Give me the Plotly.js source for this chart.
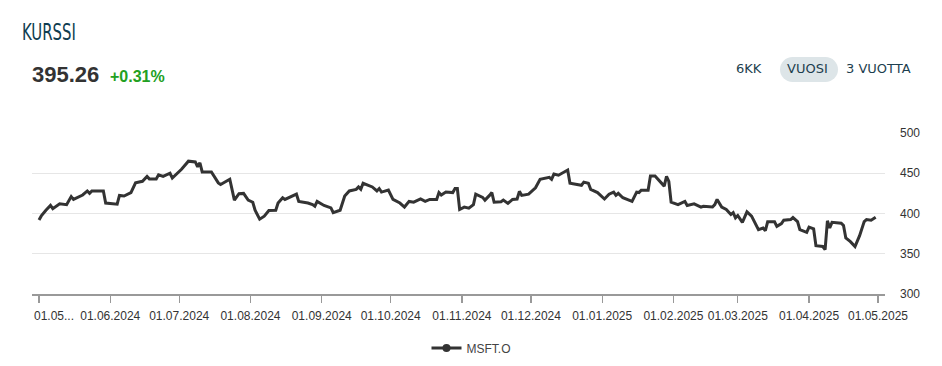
<!DOCTYPE html>
<html>
<head>
<meta charset="utf-8">
<script src="https://cdn.plot.ly/plotly-3.0.1.min.js"></script>
<style>
  html, body { margin:0; padding:0; background:#fff; }
  #wrap { position:relative; width:942px; height:366px; overflow:hidden; }
  #chart { position:absolute; left:0; top:0; width:942px; height:366px; }
  .t { position:absolute; white-space:nowrap; }
  #title { left:22px; top:19px; font-family:"Liberation Sans Narrow","DejaVu Sans Condensed",sans-serif; font-size:23px; color:#0f3d50; transform:scaleX(0.72); transform-origin:0 0; }
  #price { left:32px; top:62px; font-family:"Liberation Sans",Arial,sans-serif; font-weight:bold; font-size:22px; color:#333; }
  #chg { left:110px; top:68px; font-family:"Liberation Sans",Arial,sans-serif; font-weight:bold; font-size:16px; color:#22a022; }
  .btn { top:61px; font-family:"DejaVu Sans","Noto Sans",sans-serif; font-size:13px; color:#1d3f4f; }
  #pill { position:absolute; left:780px; top:57px; width:58px; height:25px; border-radius:13px; background:#dde5e8; }
</style>
</head>
<body>
<div id="wrap">
  <div id="chart"></div>
  <div id="title" class="t">KURSSI</div>
  <div id="price" class="t">395.26</div>
  <div id="chg" class="t">+0.31%</div>
  <div id="pill"></div>
  <div class="t btn" style="left:736px;">6KK</div>
  <div class="t btn" style="left:787px;">VUOSI</div>
  <div class="t btn" style="left:846px;">3 VUOTTA</div>
</div>
<script>
const seriesName = "MSFT.O";
const dates = [
 "2024-05-01","2024-05-02","2024-05-04","2024-05-06","2024-05-07","2024-05-10","2024-05-13","2024-05-15","2024-05-16","2024-05-20",
 "2024-05-22","2024-05-23","2024-05-24","2024-05-29","2024-05-30","2024-06-04","2024-06-05","2024-06-07","2024-06-10","2024-06-12",
 "2024-06-15","2024-06-17","2024-06-18","2024-06-21","2024-06-22","2024-06-24","2024-06-27","2024-06-28","2024-07-02","2024-07-05",
 "2024-07-08","2024-07-09","2024-07-10","2024-07-11","2024-07-15","2024-07-18","2024-07-19","2024-07-23","2024-07-25","2024-07-27",
 "2024-07-29","2024-07-31","2024-08-02","2024-08-03","2024-08-05","2024-08-07","2024-08-09","2024-08-12","2024-08-13","2024-08-15",
 "2024-08-16","2024-08-20","2024-08-21","2024-08-22","2024-08-26","2024-08-28","2024-08-29","2024-08-30","2024-09-02","2024-09-05",
 "2024-09-06","2024-09-09","2024-09-11","2024-09-13","2024-09-16","2024-09-17","2024-09-18","2024-09-19","2024-09-21","2024-09-23",
 "2024-09-25","2024-09-26","2024-09-27","2024-09-30","2024-10-02","2024-10-05","2024-10-07","2024-10-09","2024-10-11","2024-10-14",
 "2024-10-16","2024-10-18","2024-10-21","2024-10-22","2024-10-23","2024-10-25","2024-10-28","2024-10-29","2024-10-30","2024-10-31",
 "2024-11-02","2024-11-04","2024-11-06","2024-11-07","2024-11-10","2024-11-11","2024-11-13","2024-11-14","2024-11-15","2024-11-18",
 "2024-11-19","2024-11-21","2024-11-23","2024-11-25","2024-11-26","2024-11-27","2024-11-30","2024-12-03","2024-12-05","2024-12-09",
 "2024-12-10","2024-12-11","2024-12-13","2024-12-16","2024-12-17","2024-12-18","2024-12-23","2024-12-24","2024-12-26","2024-12-27",
 "2024-12-30","2025-01-02","2025-01-04","2025-01-06","2025-01-07","2025-01-08","2025-01-10","2025-01-14","2025-01-16","2025-01-17",
 "2025-01-18","2025-01-21","2025-01-22","2025-01-24","2025-01-28","2025-01-29","2025-01-30","2025-01-31","2025-02-03","2025-02-06",
 "2025-02-07","2025-02-10","2025-02-13","2025-02-14","2025-02-18","2025-02-19","2025-02-20","2025-02-22","2025-02-24","2025-02-26",
 "2025-02-27","2025-02-28","2025-03-01","2025-03-03","2025-03-05","2025-03-07","2025-03-10","2025-03-12","2025-03-13","2025-03-14",
 "2025-03-17","2025-03-18","2025-03-20","2025-03-21","2025-03-24","2025-03-25","2025-03-27","2025-03-28","2025-03-31","2025-04-01",
 "2025-04-03","2025-04-04","2025-04-07","2025-04-08","2025-04-09","2025-04-10","2025-04-11","2025-04-15","2025-04-16","2025-04-17",
 "2025-04-19","2025-04-21","2025-04-23","2025-04-25","2025-04-26","2025-04-28","2025-04-30"
];
const prices = [
 392,397,404,410,406,412,411,421,417.5,423,
 428,425,428,428,413,411.6,422.5,421.7,426,438,
 440,446,443,443,448,446,450,444,455,465,
 464,458,463,451.6,451.6,438,436,442.5,416.6,424.6,
 425,416.6,414,404,393,396.7,403.7,404,413,419.6,
 417.5,422.5,424,415,413,411,409,415,410,407,
 401,404,421.7,428,430,433,430,437.5,435,433,
 428,431,426.6,429,417.5,413,408,415,414,418,
 415,417.5,417.5,426,423,426.6,426,431,431,405,
 408,406.6,411,424,420,416.6,422.5,426,414,414.6,
 416.6,412.5,417.5,418,427.5,422.5,424,432,442.5,445,
 442.5,449,447.5,451.6,454,437.5,435,439,437.5,430,
 426,418,424,426.6,422.5,425,419.6,415,426.6,426,
 429,429,446.6,446.6,434,446,440,414,411,415,
 410,412,408,409,408,411,417.5,408,405,398.7,
 401,394.6,397.5,389,402,396.7,380,382,378.7,389.6,
 389.6,384,387.5,391.6,392.5,395,390,380,376.6,383,
 381,360,359,355,391,382,389,388,385,369.6,
 365,359,372.5,390,392.5,391.6,395.26
];
const xTickVals = ["2024-05-01","2024-06-01","2024-07-01","2024-08-01","2024-09-01","2024-10-01","2024-11-01","2024-12-01","2025-01-01","2025-02-01","2025-03-01","2025-04-01","2025-05-01"];
const xTickText = ["01.05...","01.06.2024","01.07.2024","01.08.2024","01.09.2024","01.10.2024","01.11.2024","01.12.2024","01.01.2025","01.02.2025","01.03.2025","01.04.2025","01.05.2025"];
const yTickVals = [300,350,400,450,500];

const lineColor = "#333333";
const shownTickText = xTickText.map((t, i) => i === 0 ? "" : t);
const traces = [
  {x: dates, y: prices, type: "scatter", mode: "lines", line: {color: lineColor, width: 3}, showlegend: false, hoverinfo: "skip"},
  {x: [null], y: [null], type: "scatter", mode: "lines+markers", name: seriesName,
   line: {color: lineColor, width: 3}, marker: {color: lineColor, size: 8}, showlegend: true}
];
const layout = {
  width: 942, height: 366,
  margin: {l: 32, r: 57, t: 133, b: 72, pad: 0, autoexpand: false},
  paper_bgcolor: "rgba(0,0,0,0)", plot_bgcolor: "#fff",
  font: {family: "Liberation Sans, Arial, sans-serif", size: 12, color: "#333"},
  xaxis: {
    type: "date",
    range: ["2024-04-27 22:48", "2025-05-04 01:12"],
    tickmode: "array", tickvals: xTickVals, ticktext: shownTickText,
    showgrid: false, zeroline: false,
    showline: true, linecolor: "#999", linewidth: 1.5,
    ticks: "outside", ticklen: 7, tickcolor: "#999", tickwidth: 1.2,
    ticklabelstandoff: 3,
    tickfont: {size: 12, color: "#333"}, tickangle: 0
  },
  yaxis: {
    range: [300, 500], side: "right",
    tickmode: "array", tickvals: yTickVals,
    showgrid: true, gridcolor: "#e6e6e6", gridwidth: 1,
    zeroline: false, showline: false, ticks: "",
    ticklabelstandoff: 14,
    tickfont: {size: 12, color: "#333"}
  },
  annotations: [{
    x: xTickVals[0], xref: "x", y: 0, yref: "paper", yanchor: "top", xanchor: "left",
    xshift: -7, yshift: -13, text: xTickText[0], showarrow: false,
    font: {size: 12, color: "#333"}
  }],
  showlegend: true,
  legend: {orientation: "h", x: 0.5, xref: "container", xanchor: "center",
           y: 18 / 366, yref: "container", yanchor: "middle",
           font: {size: 12, color: "#444"}, itemwidth: 30, bgcolor: "rgba(0,0,0,0)"}
};
Plotly.newPlot("chart", traces, layout, {staticPlot: true, displayModeBar: false});
</script>
</body>
</html>
